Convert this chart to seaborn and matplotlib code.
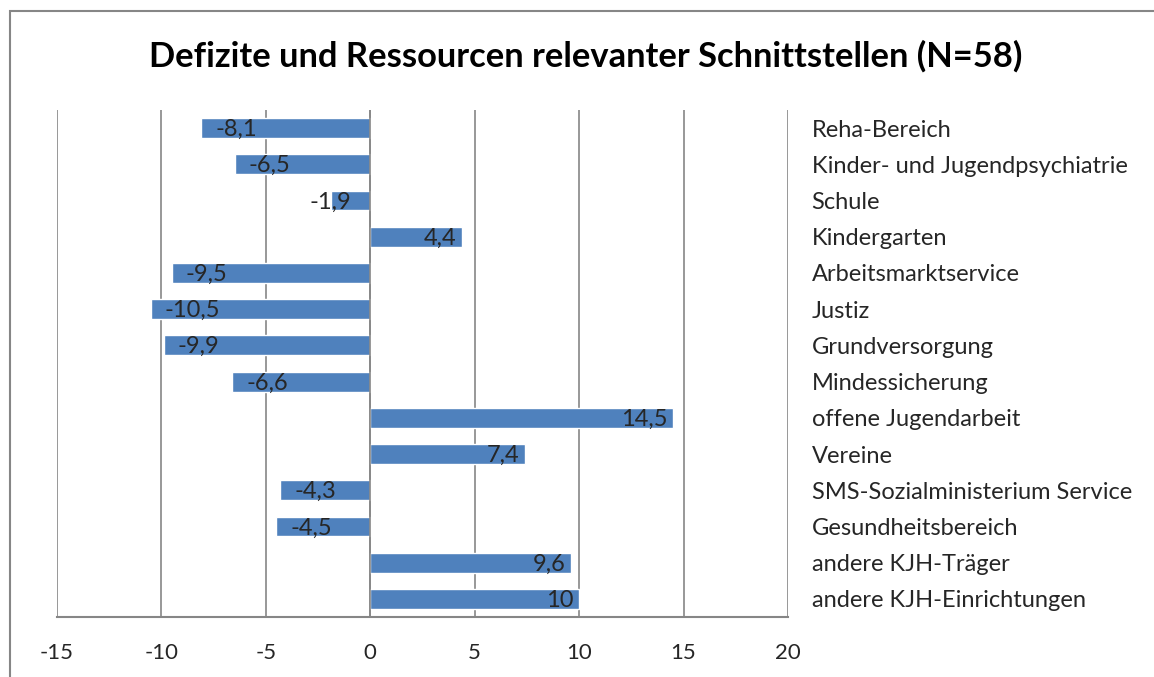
import matplotlib
matplotlib.use("Agg")
import matplotlib.pyplot as plt
import matplotlib.patches as patches
import seaborn as sns
import pandas as pd

# Categories (top to bottom) and their scores
categories = [
    "Reha-Bereich",
    "Kinder- und Jugendpsychiatrie",
    "Schule",
    "Kindergarten",
    "Arbeitsmarktservice",
    "Justiz",
    "Grundversorgung",
    "Mindessicherung",
    "offene Jugendarbeit",
    "Vereine",
    "SMS-Sozialministerium Service",
    "Gesundheitsbereich",
    "andere KJH-Träger",
    "andere KJH-Einrichtungen",
]
values = [-8.1, -6.5, -1.9, 4.4, -9.5, -10.5, -9.9, -6.6, 14.5, 7.4, -4.3, -4.5, 9.6, 10]
x_ticks = [-15, -10, -5, 0, 5, 10, 15, 20]

df = pd.DataFrame({"Bereich": categories, "Wert": values})

sns.set_style("white")
plt.rcParams["font.family"] = ["Lato", "DejaVu Sans"]

bar_color = "#4F81BD"
grid_color = "#868686"
fs = 17

fig = plt.figure(figsize=(11.54, 6.77), dpi=100)
ax = fig.add_axes([57 / 1154, 1 - 617 / 677, (788 - 57) / 1154, (617 - 110) / 677])

sns.barplot(data=df, x="Wert", y="Bereich", orient="h", color=bar_color,
            saturation=1, width=0.55, ax=ax, zorder=3)

ax.set_xlim(-15, 20)
ax.set_ylim(len(categories) - 0.5, -0.5)
ax.set_xticks(x_ticks)
ax.set_xticklabels([str(t) for t in x_ticks])
ax.set_xlabel("")
ax.set_ylabel("")

# vertical gridlines
for t in x_ticks:
    ax.axvline(t, color=grid_color, lw=1.2, zorder=1)
ax.axvline(0, color=grid_color, lw=1.2, zorder=4)

for side in ["top", "right", "left"]:
    ax.spines[side].set_visible(False)
ax.spines["bottom"].set_color(grid_color)
ax.spines["bottom"].set_linewidth(1.5)

ax.yaxis.tick_right()
ax.tick_params(axis="y", length=0, pad=17, labelsize=fs)
ax.tick_params(axis="x", length=0, pad=19, labelsize=16)

# value labels, inside end of each bar
for i, v in enumerate(values):
    txt = f"{v:g}".replace(".", ",")
    if abs(v) < 3:
        ax.annotate(txt, (v, i), xytext=(0, -1), textcoords="offset points",
                    ha="center", va="center", fontsize=fs, zorder=5)
    elif v < 0:
        ax.annotate(txt, (v, i), xytext=(10, -1), textcoords="offset points",
                    ha="left", va="center", fontsize=fs, zorder=5)
    else:
        ax.annotate(txt, (v, i), xytext=(-4, -1), textcoords="offset points",
                    ha="right", va="center", fontsize=fs, zorder=5)

fig.text(586 / 1154, 1 - 56 / 677, "Defizite und Ressourcen relevanter Schnittstellen (N=58)",
         ha="center", va="center", fontsize=24.8, fontweight="bold", color="black")

# chart frame
fig.patches.append(patches.Rectangle((9.5 / 1154, -0.1), 1.2, 1.1 - 10.5 / 677,
                                     transform=fig.transFigure, fill=False,
                                     edgecolor=grid_color, lw=1.5))

fig.savefig("out.png", dpi=100)
